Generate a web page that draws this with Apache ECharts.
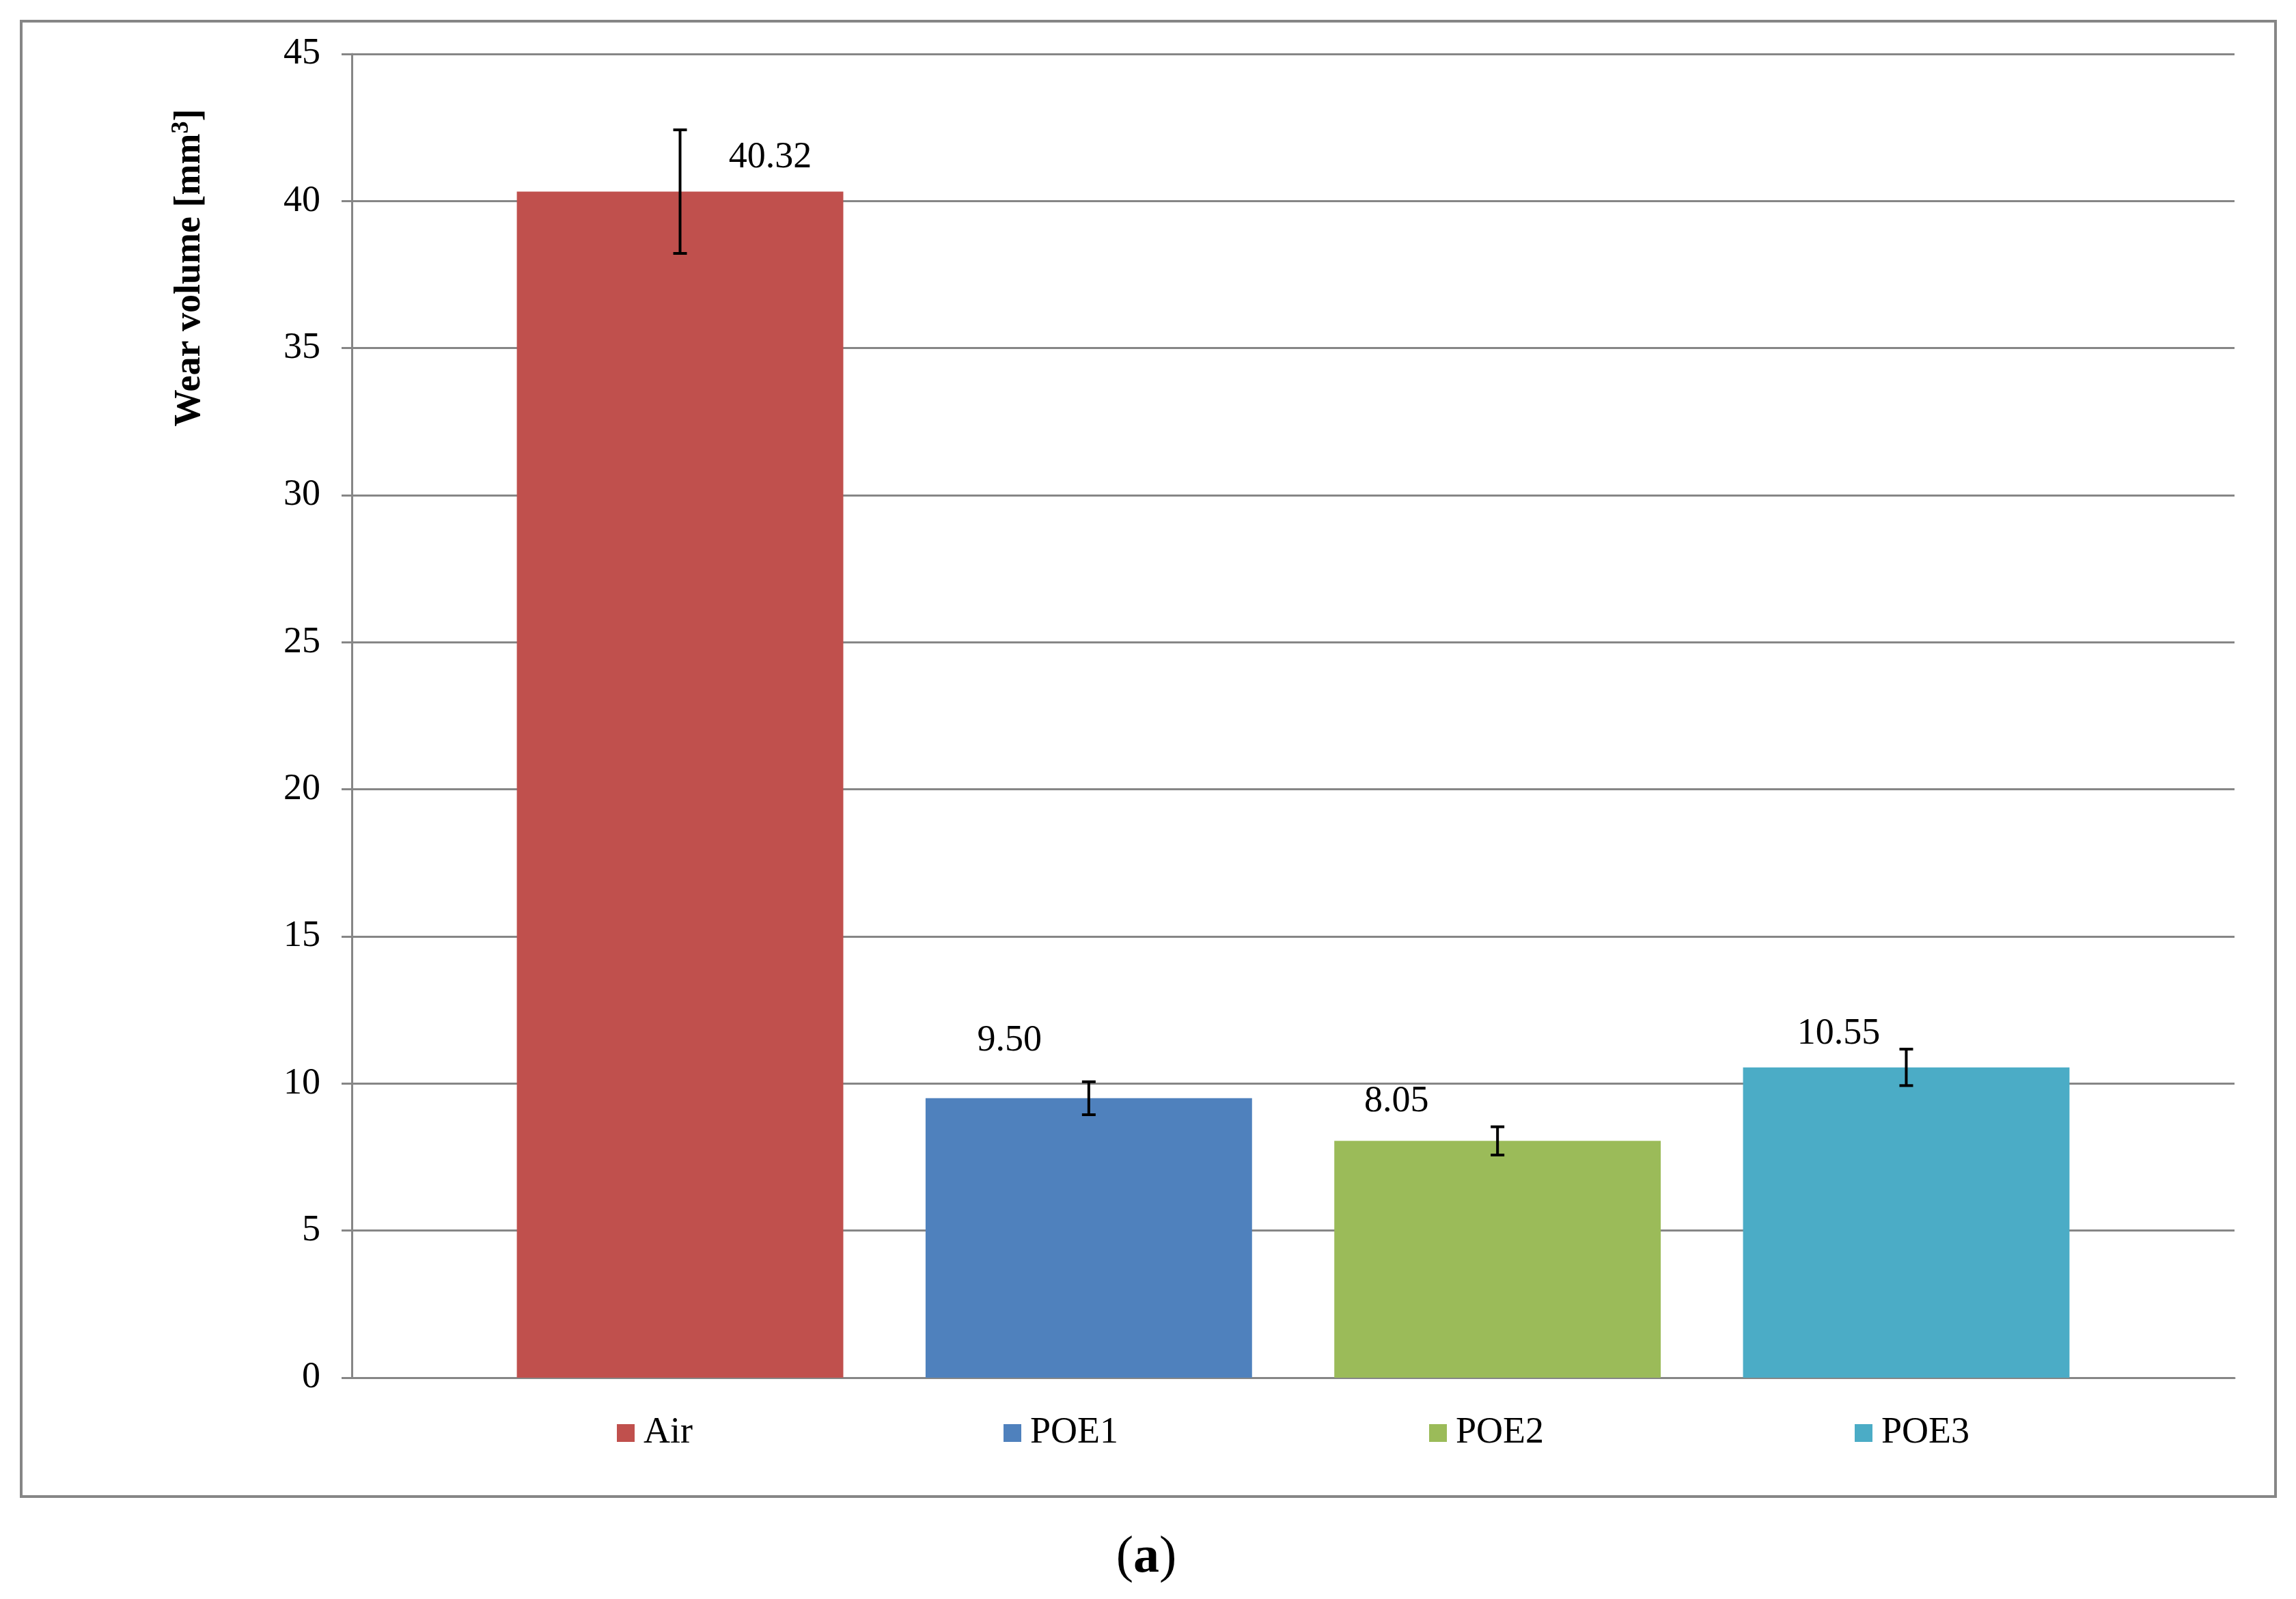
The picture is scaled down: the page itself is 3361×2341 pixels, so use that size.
<!DOCTYPE html>
<html>
<head>
<meta charset="utf-8">
<script src="https://cdn.jsdelivr.net/npm/echarts@6/dist/echarts.min.js"></script>
<style>
  html, body { margin: 0; padding: 0; background: #ffffff; }
  #chart { width: 3361px; height: 2341px; }
</style>
</head>
<body>
<div id="chart"></div>
<script>
// ---- data ----
const categories = [''];
const seriesNames = ['Air', 'POE1', 'POE2', 'POE3'];
const wearVolume = [40.32, 9.50, 8.05, 10.55];
const errorSize = [2.10, 0.56, 0.48, 0.62];
const yAxisMin = 0;
const yAxisMax = 45;
const yAxisStep = 5;
const yAxisTitleParts = ['Wear volume [mm', '3', ']'];
const captionText = ['(', 'a', ')'];

// ---- style ----
const FONT = "'Liberation Serif', 'Times New Roman', serif";
const colors = ['#C0504D', '#4F81BD', '#9BBB59', '#4BACC6'];
const gridColor = '#868686';
const BAR_WIDTH_FRAC = 0.1734;
const BAR_GAP_FRAC = 0.252;
const labelShift = [[132, -23], [-116, -57], [-148, -31], [-99, -22]];

const chart = echarts.init(document.getElementById('chart'), null, { renderer: 'canvas' });

const barSeries = seriesNames.map((name, i) => ({
  name: name,
  type: 'bar',
  data: [wearVolume[i]],
  barWidth: (BAR_WIDTH_FRAC * 100) + '%',
  barGap: (BAR_GAP_FRAC * 100) + '%',
  itemStyle: { color: colors[i] },
  label: {
    show: true,
    position: 'top',
    distance: 0,
    offset: labelShift[i],
    formatter: p => Number(p.value).toFixed(2),
    fontFamily: FONT,
    fontSize: 54,
    lineHeight: 54,
    color: '#000'
  },
  z: 2
}));

const errData = wearVolume.map((v, i) => [0, v - errorSize[i], v + errorSize[i], i]);

const errSeries = {
  type: 'custom',
  name: 'error',
  data: errData,
  encode: { x: 0, y: [1, 2] },
  z: 10,
  renderItem: function (params, api) {
    const band = params.coordSys.width / categories.length;
    const bw = band * BAR_WIDTH_FRAC;
    const gap = bw * BAR_GAP_FRAC;
    const idx = api.value(3);
    const lo = api.coord([api.value(0), api.value(1)]);
    const hi = api.coord([api.value(0), api.value(2)]);
    const cx = lo[0] + (idx - (seriesNames.length - 1) / 2) * (bw + gap);
    const half = 10;
    const st = { stroke: '#000', lineWidth: 4 };
    return {
      type: 'group',
      children: [
        { type: 'line', shape: { x1: cx, y1: hi[1], x2: cx, y2: lo[1] }, style: st },
        { type: 'line', shape: { x1: cx - half, y1: hi[1], x2: cx + half, y2: hi[1] }, style: st },
        { type: 'line', shape: { x1: cx - half, y1: lo[1], x2: cx + half, y2: lo[1] }, style: st }
      ]
    };
  }
};

const option = {
  animation: false,
  backgroundColor: '#ffffff',
  grid: { left: 515, right: 90, top: 79, bottom: 324, containLabel: false },
  xAxis: {
    type: 'category',
    data: categories,
    axisLine: { show: true, lineStyle: { color: gridColor, width: 3 } },
    axisTick: { show: false },
    axisLabel: { show: false },
    splitLine: { show: false }
  },
  yAxis: {
    type: 'value',
    min: yAxisMin,
    max: yAxisMax,
    interval: yAxisStep,
    axisLine: { show: true, lineStyle: { color: gridColor, width: 3 } },
    axisTick: { show: true, length: 15, inside: false, lineStyle: { color: gridColor, width: 3 } },
    axisLabel: { margin: 46, fontFamily: FONT, fontSize: 54, color: '#000' },
    splitLine: { show: true, lineStyle: { color: gridColor, width: 3 } }
  },
  legend: {
    data: seriesNames,
    left: 898,
    top: 2066,
    orient: 'horizontal',
    itemWidth: 26,
    itemHeight: 26,
    itemGap: 455,
    icon: 'rect',
    textStyle: { fontFamily: FONT, fontSize: 54, lineHeight: 54, color: '#000', padding: [0, 0, 0, 8] }
  },
  graphic: [
    {
      type: 'rect',
      shape: { x: 31, y: 31, width: 3300, height: 2160 },
      style: { fill: null, stroke: gridColor, lineWidth: 4 },
      silent: true
    },
    {
      type: 'text',
      x: 278,
      y: 392,
      rotation: Math.PI / 2,
      style: {
        text: '{t|' + yAxisTitleParts[0] + '}{s|' + yAxisTitleParts[1] + '}{t|' + yAxisTitleParts[2] + '}',
        align: 'center',
        verticalAlign: 'middle',
        fill: '#000',
        rich: {
          t: { fontFamily: FONT, fontSize: 54, fontWeight: 'bold', lineHeight: 60, fill: '#000' },
          s: { fontFamily: FONT, fontSize: 36, fontWeight: 'bold', lineHeight: 60, verticalAlign: 'top', fill: '#000' }
        }
      }
    },
    {
      type: 'text',
      x: 1678,
      y: 2281,
      style: {
        text: '{p|' + captionText[0] + '}{b|' + captionText[1] + '}{p|' + captionText[2] + '}',
        align: 'center',
        verticalAlign: 'middle',
        fill: '#000',
        rich: {
          p: { fontFamily: FONT, fontSize: 76, fill: '#000' },
          b: { fontFamily: FONT, fontSize: 76, fontWeight: 'bold', fill: '#000' }
        }
      }
    }
  ],
  series: barSeries.concat([errSeries])
};

chart.setOption(option);
</script>
</body>
</html>
